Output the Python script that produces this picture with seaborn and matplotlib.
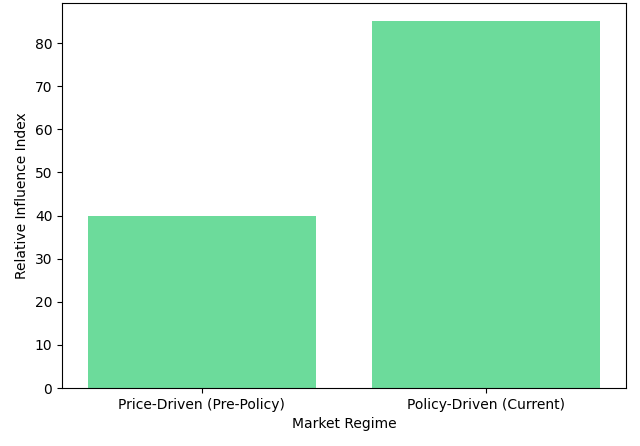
import matplotlib
matplotlib.use("Agg")
import matplotlib.pyplot as plt
import seaborn as sns
import pandas as pd

regimes = ["Price-Driven (Pre-Policy)", "Policy-Driven (Current)"]
influence = [40, 85]

df = pd.DataFrame({"Market Regime": regimes, "Relative Influence Index": influence})

fig, ax = plt.subplots(figsize=(6.4, 4.46), dpi=100)
sns.barplot(
    data=df,
    x="Market Regime",
    y="Relative Influence Index",
    color="#2ecc71",
    alpha=0.7,
    saturation=1,
    ax=ax,
)
ax.set_xlim(-0.49, 1.49)
ax.set_ylim(0, max(influence) * 1.05)
fig.subplots_adjust(left=0.097, right=0.978, top=0.993, bottom=0.130)
plt.savefig("out.png")
